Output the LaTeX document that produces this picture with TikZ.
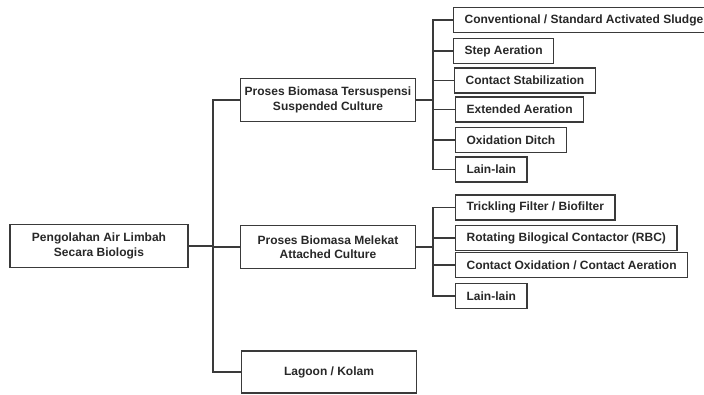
\documentclass[tikz,border=0pt]{standalone}
\usepackage{fontspec}
\setmainfont{Liberation Sans}
\usetikzlibrary{positioning}
\definecolor{lineG}{RGB}{58,58,58}
\definecolor{textG}{RGB}{40,40,40}

\begin{document}
\begin{tikzpicture}[x=1pt,y=-1pt,
  box/.style={draw=lineG,line width=1.2pt,text=textG,font=\fontsize{12}{14.5}\selectfont\bfseries,align=center,inner sep=0pt},
  bigbox/.style={box,minimum width=175pt,minimum height=43pt},
  leaf/.style={box,anchor=west,inner xsep=11pt,minimum height=25pt},
  link/.style={draw=lineG,line width=1.2pt}]
\useasboundingbox[fill=white] (0,0) rectangle (704,394);
\coordinate (trunk) at (213,0);
\coordinate (subA) at (433,0);
\node[bigbox,minimum width=178pt] (root) at (99,246) {Pengolahan Air Limbah\\Secara Biologis};
\node[bigbox] (susp) at (328,100) {Proses Biomasa Tersuspensi\\Suspended Culture};
\node[bigbox] (attach) at (328,247) {Proses Biomasa Melekat\\Attached Culture};
\node[bigbox,minimum height=42pt] (lagoon) at (329,372) {Lagoon / Kolam};
\node[leaf] (conv) at (453,20) {Conventional / Standard Activated Sludge};
\node[leaf] (step) at (453,51) {Step Aeration};
\node[leaf] (stab) at (454,80.5) {Contact Stabilization};
\node[leaf] (ext) at (455,109.5) {Extended Aeration};
\node[leaf] (ditch) at (455,140) {Oxidation Ditch};
\node[leaf] (lainA) at (455,169.5) {Lain-lain};
\node[leaf] (trick) at (455,207.5) {Trickling Filter / Biofilter};
\node[leaf] (rbc) at (455,238) {Rotating Bilogical Contactor (RBC)};
\node[leaf] (cox) at (455,265) {Contact Oxidation / Contact Aeration};
\node[leaf] (lainB) at (455,296) {Lain-lain};
\draw[link] (susp.west) -| (trunk |- lagoon.west) -- (lagoon.west);
\draw[link] (root.east) -- (trunk |- root.east);
\draw[link] (attach.west) -- (trunk |- attach.west);
\draw[link] (susp.east) -- (subA |- susp.east);
\draw[link] (conv.west) -| (subA |- lainA.west) -- (lainA.west);
\foreach \n in {step,stab,ext,ditch}
  \draw[link] (\n.west) -- (subA |- \n.west);
\draw[link] (attach.east) -- (subA |- attach.east);
\draw[link] (trick.west) -| (subA |- lainB.west) -- (lainB.west);
\foreach \n in {rbc,cox}
  \draw[link] (\n.west) -- (subA |- \n.west);
\end{tikzpicture}
\end{document}
